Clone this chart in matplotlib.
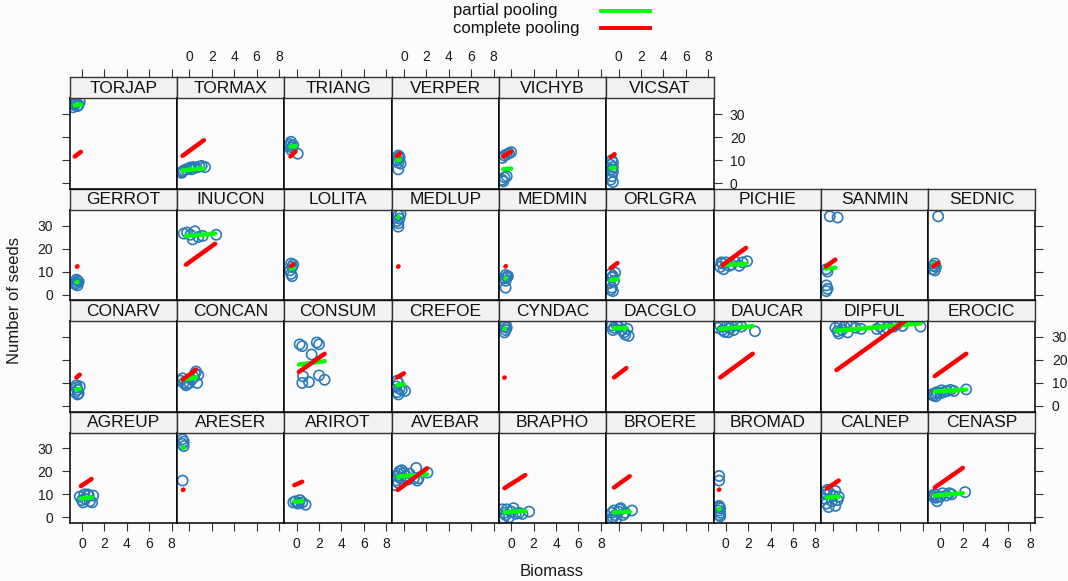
import matplotlib.pyplot as plt
from matplotlib.lines import Line2D

plt.rcParams['font.family'] = ['Liberation Sans', 'DejaVu Sans']

# species in panel order (lattice fills from bottom-left)
species = ["AGREUP", "ARESER", "ARIROT", "AVEBAR", "BRAPHO", "BROERE", "BROMAD", "CALNEP", "CENASP",
           "CONARV", "CONCAN", "CONSUM", "CREFOE", "CYNDAC", "DACGLO", "DAUCAR", "DIPFUL", "EROCIC",
           "GERROT", "INUCON", "LOLITA", "MEDLUP", "MEDMIN", "ORLGRA", "PICHIE", "SANMIN", "SEDNIC",
           "TORJAP", "TORMAX", "TRIANG", "VERPER", "VICHYB", "VICSAT"]

# observed biomass / seed counts per species
point_x = [
    [-0.2, 0.0, 0.1, 0.3, 0.5, 0.6, 0.7, 0.9, 1.0, 0.2],
    [-0.6, -0.5, -0.6, -0.5, -0.6],
    [-0.3, -0.1, 0.1, 0.3, 0.5, 0.8, 0.2],
    [-0.8, -0.7, -0.6, -0.5, -0.4, -0.3, -0.2, 0.0, 0.2, 0.4, 0.5, 0.9, 1.1, 1.3, 1.2, 2.1, -0.5],
    [-0.8, -0.6, -0.5, -0.4, -0.2, 0.0, 0.2, 0.4, 0.7, 1.0, 1.6, -0.7],
    [-0.6, -0.5, -0.4, -0.3, -0.2, 0.0, 0.2, 0.4, 0.6, 1.2, -0.6, 0.1],
    [-0.6, -0.6, -0.6, -0.5, -0.6, -0.5, -0.6, -0.5, -0.6],
    [-0.8, -0.6, -0.5, -0.7, -0.3, -0.1, 0.0, 0.2, 0.4, 0.5, -0.4, 0.2, -0.6],
    [-0.7, -0.5, -0.4, -0.3, 0.0, 0.2, 0.5, 0.8, 1.0, 2.2, -0.6],
    [-0.5, -0.4, -0.6, -0.3, -0.5, -0.4, -0.2],
    [-0.8, -0.5, -0.3, -0.6, 0.0, 0.2, 0.4, 0.5, 0.6, 0.8, 0.7, -0.2],
    [0.27, 0.5, 1.8, 2.0, 1.34, 0.57, 0.5, 1.1, 2.0, 2.5],
    [-0.6, -0.5, -0.7, -0.4, -0.6, -0.2, 0.1, -0.5],
    [-0.6, -0.5, -0.6, -0.5, -0.4],
    [-0.6, -0.4, -0.2, 0.0, 0.3, 0.5, 0.6, 0.9, 0.8, -0.5, 0.2],
    [-0.7, -0.5, -0.3, 0.0, 0.2, 0.5, 0.7, 1.0, 1.4, 2.6, -0.1, 0.4],
    [0.2, 0.4, 0.6, 0.8, 1.0, 1.3, 1.6, 2.0, 2.5, 3.9, 4.2, 4.5, 4.8, 5.4, 5.7, 6.2, 7.8, 0.5, 1.2],
    [-0.8, -0.6, -0.5, -0.3, 0.0, 0.3, 0.6, 0.9, 1.2, 2.3, -0.4, 0.1],
    [-0.5, -0.4, -0.6, -0.3, -0.5, -0.4],
    [-0.5, -0.2, 0.1, 0.3, 0.5, 0.8, 1.2, 2.4],
    [-0.5, -0.4, -0.6, -0.5, -0.4, -0.3],
    [-0.5, -0.4, -0.6, -0.5, -0.5, -0.3],
    [-0.5, -0.4, -0.6, -0.5, -0.5, -0.3],
    [-0.7, -0.5, -0.3, -0.6, -0.8, -0.6, -0.7, -0.5, -0.4],
    [-0.5, -0.3, -0.2, 0.0, 0.3, 0.5, 0.8, 1.2, 1.5, 1.9, -0.4],
    [-0.3, 0.4, -0.6, -0.5, -0.6, -0.5, -0.6],
    [-0.2, -0.6, -0.5, -0.7, -0.5, -0.4],
    [-0.8, -0.6, -0.5, -0.4, -0.3, -0.2, -0.7],
    [-0.7, -0.5, -0.3, 0.0, 0.2, 0.4, 0.6, 0.9, 1.1, 1.4, -0.6, 0.1],
    [-0.7, -0.6, -0.5, -0.4, -0.3, -0.5, 0.1],
    [-0.5, -0.4, -0.6, -0.5, -0.3, -0.5, -0.4],
    [-0.8, -0.6, -0.4, -0.2, 0.0, -0.8, -0.6, -0.4, -0.7],
    [-0.6, -0.5, -0.7, -0.5, -0.6, -0.5, -0.6, -0.7, -0.5],
]
point_y = [
    [9, 7.5, 6.5, 8, 10, 9.5, 7, 6.5, 9.5, 10],
    [34, 33, 32, 31, 16],
    [6.5, 7, 6, 7.5, 6.5, 5.5, 6.2],
    [14, 16, 18, 19, 20, 17, 20.5, 19.5, 18, 16.5, 19, 17, 21.5, 17, 16, 19.5, 15],
    [3.5, 2, 1, 3.5, 0, 2.5, 4, 1.5, 2, 1.5, 2.5, -0.5],
    [2, 0, 3, 1, -0.5, 2.5, 4, 1, 2, 3, -1, 3.5],
    [18, 16, 5, 4, 3, 2, 1, 0.5, 4.5],
    [11, 10, 12, 8, 10.5, 7, 9.5, 5, 7.5, 9, 4.5, 11.5, 6],
    [9.5, 10, 8.5, 7, 9, 10.5, 9.5, 10.5, 10, 11, 8.8],
    [8, 7, 6, 5.5, 9, 5, 8.5],
    [11, 10, 9, 12, 10, 11.5, 12.5, 14, 15, 13.5, 10, 9.5],
    [26.8, 26, 27.6, 26.8, 22.4, 12.9, 10, 10.4, 13.3, 11.4],
    [11, 10, 8.5, 7.5, 6, 7, 6.5, 5],
    [34.5, 33, 32, 35.5, 34],
    [35, 34, 35.5, 34.5, 33, 32, 31, 30.5, 33.5, 33, 36],
    [34, 35, 33, 34.5, 32, 35, 33, 35, 34.5, 32.5, 32.2, 33.8],
    [34, 32.5, 35, 33, 34.5, 32, 35, 34, 33.5, 33.5, 34.5, 33, 34, 34.5, 35.5, 34.8, 34.5, 31.5, 35.5],
    [5, 4.5, 5.5, 6, 5.5, 6, 6.5, 7, 6.5, 7.2, 4.2, 6.8],
    [5, 6, 4.5, 5.5, 6.5, 4],
    [26.5, 27, 26, 24, 27.5, 25, 25.5, 26],
    [13.5, 12, 10.5, 9, 8, 13],
    [34.5, 33, 32, 31, 29.5, 35],
    [8.5, 7.5, 7, 6, 3, 8],
    [9, 8, 9.5, 7.5, 5, 3, 2, 1.5, 6],
    [12, 13.5, 11, 14, 12.5, 13, 14.5, 12.5, 14, 14.5, 14],
    [34, 33.5, 11, 10, 4, 2.5, 1.5],
    [34, 12.5, 13.5, 11, 10.5, 12],
    [33, 34.5, 35, 33.5, 34, 35.5, 34],
    [4.5, 5.5, 6, 6.5, 6, 7, 6.8, 7.2, 7.5, 7, 5, 6.8],
    [16, 17, 18, 15.5, 16.5, 14.5, 12.8],
    [12, 11, 10, 9, 8.5, 6, 11.5],
    [11, 12, 12.5, 13, 13.5, 1.5, 2.5, 3, 0.8],
    [10, 9, 8, 7, 6, 5, 3, 1.5, 0.5],
]

# fitted lines: biomass range and end values of each model
line_x0 = [-0.1, -0.58, -0.2, -0.55, -0.6, -0.4, -0.62, -0.56, -0.5,
           -0.5, -0.6, 0.2, -0.6, -0.62, -0.4, -0.5, 0.3, -0.5,
           -0.45, -0.3, -0.5, -0.52, -0.52, -0.7, -0.3, -0.65, -0.6,
           -0.65, -0.6, -0.55, -0.6, -0.7, -0.7]
line_x1 = [0.85, -0.52, 0.5, 2.06, 1.25, 1.0, -0.58, 0.5, 2.0,
           -0.2, 0.6, 2.5, 0.0, -0.58, 0.7, 2.4, 7.8, 2.3,
           -0.4, 2.3, -0.3, -0.48, -0.48, -0.1, 1.8, 0.2, -0.2,
           -0.1, 1.3, -0.1, -0.35, 0.0, -0.35]
partial_y0 = [8.2, 30.2, 6.8, 17.7, 2.2, 2.2, 3.5, 8.6, 9.5,
              7.2, 11.4, 18.0, 9.0, 33.5, 33.7, 33.5, 32.7, 6.3,
              5.4, 25.5, 11.4, 33.5, 7.0, 6.3, 13.0, 11.3, 13.2,
              33.9, 5.5, 15.9, 10.1, 6.1, 6.5]
partial_y1 = [8.7, 30.4, 7.0, 18.7, 2.8, 2.5, 3.7, 9.0, 10.5,
              7.4, 12.4, 19.5, 9.4, 33.6, 33.9, 34.7, 35.9, 7.1,
              5.5, 26.5, 11.6, 33.7, 7.1, 6.7, 13.3, 11.7, 13.5,
              34.1, 6.5, 16.1, 10.3, 6.3, 6.7]
complete_y0 = [13.6, 11.9, 14.0, 11.9, 12.7, 13.0, 12.0, 12.6, 13.0,
               12.4, 11.4, 14.8, 12.4, 12.3, 12.4, 12.4, 15.6, 13.0,
               12.1, 13.0, 12.4, 12.1, 12.2, 11.5, 12.8, 12.2, 12.3,
               11.6, 11.9, 11.6, 11.8, 11.6, 11.3]
complete_y1 = [16.7, 12.1, 15.5, 21.3, 18.4, 17.9, 12.1, 16.0, 21.5,
               13.6, 15.8, 22.7, 14.2, 12.4, 16.5, 22.7, 41.8, 22.7,
               12.3, 22.1, 13.1, 12.3, 12.4, 13.7, 20.3, 15.2, 13.7,
               13.6, 18.7, 13.8, 12.8, 13.8, 12.6]

x_ticks = [0, 2, 4, 6, 8]
y_ticks = [0, 10, 20, 30]

W, H = 1068, 581
bg = '#FCFCFC'
fig = plt.figure(figsize=(W / 100, H / 100), dpi=100, facecolor=bg)


def box(x, y, w, h):
    return [x / W, 1 - (y + h) / H, w / W, h / H]


x_left, col_w = 69.7, 107.3
strip_top0, row_h, strip_h, plot_h = 77.3, 111.4, 21.0, 90.4
xlim = (-1.1, 8.48)
ylim = (-2.4, 36.9)
tick_kw = dict(direction='out', length=5.8, width=0.8, color='#333333',
               labelsize=10, labelcolor='#1A1A1A')

for i, name in enumerate(species):
    row = 3 - i // 9
    col = i % 9
    px = x_left + col * col_w
    sy = strip_top0 + row * row_h

    ax = fig.add_axes(box(px, sy + strip_h, col_w, plot_h))
    ax.set_facecolor(bg)
    ax.set_xlim(xlim)
    ax.set_ylim(ylim)
    ax.set_xticks(x_ticks)
    ax.set_yticks(y_ticks)
    for s in ax.spines.values():
        s.set_linewidth(1.1)
        s.set_color('black')

    left = col == 0
    right = (row == 0 and col == 5) or (row > 0 and col == 8)
    bottom = row == 3
    ax.tick_params(axis='x', bottom=bottom, top=False, labelbottom=bottom and col % 2 == 0,
                   labeltop=False, pad=4.5, **tick_kw)
    ax.tick_params(axis='y', left=left, right=right, labelleft=left and row % 2 == 1,
                   labelright=right and row % 2 == 0, pad=6, **tick_kw)

    ax.scatter(point_x[i], point_y[i], s=54, facecolors='none', edgecolors='#2A7AB8',
               linewidths=1.2, zorder=2)
    ax.plot([line_x0[i], line_x1[i]], [partial_y0[i], partial_y1[i]], color='#00FF00',
            lw=3.2, solid_capstyle='round', zorder=3)
    ax.plot([line_x0[i], line_x1[i]], [complete_y0[i], complete_y1[i]], color='#FF0000',
            lw=3.2, solid_capstyle='round', zorder=4)

    st = fig.add_axes(box(px, sy, col_w, strip_h))
    st.set_facecolor('#F2F2F2')
    st.set_xlim(xlim)
    st.set_yticks([])
    for s in st.spines.values():
        s.set_linewidth(1.0)
        s.set_color('#333333')
    if row == 0:
        st.set_xticks(x_ticks)
        st.tick_params(axis='x', bottom=False, labelbottom=False, top=True,
                       labeltop=col % 2 == 1, pad=3.5, **tick_kw)
    else:
        st.set_xticks([])
    st.text(0.5, 0.47, name, transform=st.transAxes, ha='center', va='center',
            fontsize=12.5, color='#111111')

# axis titles
fig.text(15 / W, 1 - 300 / H, 'Number of seeds', rotation=90, ha='center', va='center',
         fontsize=12, color='#1A1A1A')
fig.text(552 / W, 1 - 572 / H, 'Biomass', ha='center', va='center', fontsize=12, color='#1A1A1A')

# legend
legend_labels = ['partial pooling', 'complete pooling']
legend_colors = ['#00FF00', '#FF0000']
for k, (lab, c) in enumerate(zip(legend_labels, legend_colors)):
    yc = 1 - (11 + k * 17) / H
    fig.text(453 / W, yc, lab, ha='left', va='center', fontsize=12, color='#111111')
    fig.add_artist(Line2D([601 / W, 650 / W], [yc, yc], color=c, lw=2.8,
                          transform=fig.transFigure))

fig.savefig('out.png', dpi=100, facecolor=bg)
